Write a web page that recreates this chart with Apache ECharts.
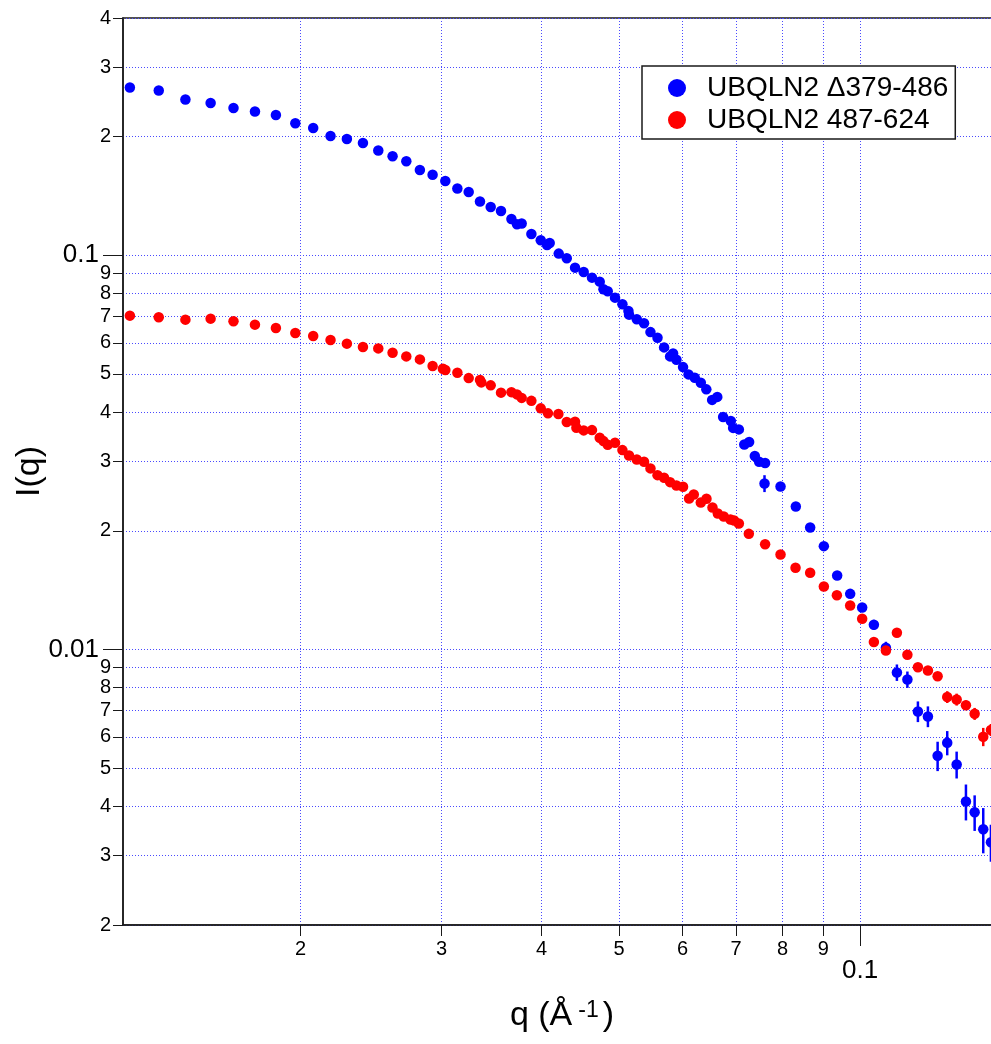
<!DOCTYPE html>
<html>
<head>
<meta charset="utf-8">
<script src="https://cdn.jsdelivr.net/npm/echarts@6/dist/echarts.min.js"></script>
<style>
  html, body { margin: 0; padding: 0; background: #fff; }
  #chart { width: 991px; height: 1044px; }
</style>
</head>
<body>
<div id="chart"></div>
<script>
// ---------------------------------------------------------------
// Data (q in 1/Angstrom, I(q) arbitrary)
// ---------------------------------------------------------------
var qBlue = [
  0.01224, 0.01330, 0.01436, 0.01544, 0.01649, 0.01754, 0.01863, 0.01970, 0.02074, 0.02180,
  0.02285, 0.02393, 0.02501, 0.02606, 0.02711, 0.02819, 0.02924, 0.03033, 0.03140, 0.03244,
  0.03351, 0.03456, 0.03560, 0.03668, 0.03727, 0.03778, 0.03885, 0.03991, 0.04064, 0.04095,
  0.04203, 0.04301, 0.04405, 0.04516, 0.04625, 0.04729, 0.04780, 0.04839, 0.04942, 0.05048,
  0.05136, 0.05145, 0.05261, 0.05372, 0.05472, 0.05584, 0.05691, 0.05790, 0.05840, 0.05897,
  0.06010, 0.06105, 0.06216, 0.06325, 0.06426, 0.06534, 0.06632, 0.06744, 0.06895, 0.06941,
  0.07056, 0.07168, 0.07268, 0.07388, 0.07480, 0.07610, 0.07597, 0.07955, 0.08313, 0.08663,
  0.09011, 0.09363, 0.09720, 0.10061, 0.10406, 0.10772, 0.11118, 0.11459, 0.11811, 0.12156,
  0.12500, 0.12850, 0.13203, 0.13561, 0.13905, 0.14253, 0.14572
];
var iBlue = [
  0.2665, 0.2618, 0.2484, 0.2435, 0.2365, 0.2316, 0.2270, 0.2163, 0.2104, 0.2008,
  0.1973, 0.1928, 0.1844, 0.1783, 0.1732, 0.1646, 0.1601, 0.1544, 0.1477, 0.1448,
  0.1369, 0.1326, 0.1296, 0.1236, 0.1199, 0.1204, 0.1133, 0.1092, 0.1062, 0.1075,
  0.1010, 0.09826, 0.09306, 0.09071, 0.08778, 0.08575, 0.08198, 0.08103, 0.07810, 0.07510,
  0.07222, 0.07071, 0.06880, 0.06721, 0.06386, 0.06181, 0.05840, 0.05541, 0.05639, 0.05435,
  0.05205, 0.04988, 0.04893, 0.04752, 0.04570, 0.04297, 0.04373, 0.03887, 0.03797, 0.03649,
  0.03617, 0.03313, 0.03362, 0.03095, 0.02995, 0.02971, 0.02638, 0.02592, 0.02306, 0.02040,
  0.01829, 0.01541, 0.01384, 0.01278, 0.01155, 0.01010, 0.008742, 0.008392, 0.006963, 0.006762,
  0.005374, 0.005799, 0.005107, 0.004114, 0.003865, 0.003500, 0.003243
];
var errBlue = [
  0, 0, 0, 0, 0, 0, 0, 0, 0, 0,
  0, 0, 0, 0, 0, 0, 0, 0, 0, 0,
  0, 0, 0, 0, 0, 0, 0, 0, 0, 0,
  0, 0, 0, 0, 0, 0, 0, 0, 0, 0,
  0, 0, 0, 0, 0, 0, 0, 0, 0, 0,
  0, 0, 0, 0, 0, 0, 0, 0.0004, 0.0004, 0.0004,
  0.0004, 0.0004, 0.0004, 0.0004, 0.0004, 0.0004, 0.0013, 0.0006, 0.0005, 0.0004,
  0.0004, 0.00027, 0.00025, 0.0003, 0.00034, 0.00036, 0.00042, 0.0004, 0.00042, 0.00041,
  0.00046, 0.00041, 0.0004, 0.00043, 0.0004, 0.00046, 0.00035
];

var qRed = [
  0.01224, 0.01330, 0.01436, 0.01544, 0.01649, 0.01754, 0.01863, 0.01970, 0.02074, 0.02180,
  0.02285, 0.02393, 0.02501, 0.02606, 0.02711, 0.02819, 0.02924, 0.03012, 0.03033, 0.03140,
  0.03244, 0.03351, 0.03364, 0.03456, 0.03560, 0.03668, 0.03727, 0.03778, 0.03885, 0.03991,
  0.04075, 0.04199, 0.04301, 0.04405, 0.04422, 0.04516, 0.04625, 0.04729, 0.04780, 0.04839,
  0.04942, 0.05048, 0.05145, 0.05261, 0.05372, 0.05472, 0.05584, 0.05691, 0.05790, 0.05897,
  0.06010, 0.06115, 0.06198, 0.06325, 0.06429, 0.06541, 0.06642, 0.06757, 0.06889, 0.06961,
  0.07056, 0.07262, 0.07610, 0.07955, 0.08306, 0.08663, 0.09011, 0.09355, 0.09720, 0.10061,
  0.10406, 0.10772, 0.11118, 0.11459, 0.11811, 0.12156, 0.12500, 0.12850, 0.13203, 0.13561,
  0.13905, 0.14253, 0.14572
];
var iRed = [
  0.07030, 0.06961, 0.06868, 0.06908, 0.06800, 0.06670, 0.06539, 0.06350, 0.06240, 0.06095,
  0.05969, 0.05851, 0.05806, 0.05662, 0.05541, 0.05445, 0.05236, 0.05157, 0.05115, 0.05038,
  0.04881, 0.04830, 0.04760, 0.04678, 0.04483, 0.04496, 0.04438, 0.04348, 0.04273, 0.04090,
  0.03972, 0.03956, 0.03775, 0.03783, 0.03653, 0.03596, 0.03602, 0.03446, 0.03378, 0.03308,
  0.03347, 0.03205, 0.03107, 0.03035, 0.02995, 0.02880, 0.02769, 0.02728, 0.02658, 0.02607,
  0.02587, 0.02416, 0.02473, 0.02360, 0.02413, 0.02292, 0.02213, 0.02175, 0.02137, 0.02125,
  0.02088, 0.01965, 0.01850, 0.01742, 0.01612, 0.01565, 0.01445, 0.01373, 0.01293, 0.01197,
  0.01045, 0.009942, 0.01103, 0.009695, 0.009017, 0.008845, 0.008555, 0.007576, 0.007466, 0.007222,
  0.006868, 0.006005, 0.006249
];
var errRed = [
  0, 0, 0, 0, 0, 0, 0, 0, 0, 0,
  0, 0, 0, 0, 0, 0, 0, 0, 0, 0,
  0, 0, 0, 0, 0, 0, 0, 0, 0, 0,
  0, 0, 0, 0, 0, 0, 0, 0, 0, 0,
  0, 0, 0, 0, 0, 0, 0, 0, 0, 0,
  0, 0, 0, 0, 0, 0, 0, 0, 0, 0,
  0, 0.00015, 0.00015, 0.00015, 0.00015, 0.00015, 0.00015, 0.00015, 0.00015, 0.00015,
  0.00025, 0.00024, 0.0002, 0.00023, 0.0002, 0.0002, 0.0002, 0.00026, 0.00026, 0.0002,
  0.00024, 0.00032, 0.00022
];

var seriesNames = ['UBQLN2 \u0394379-486', 'UBQLN2 487-624'];
var seriesColors = ['#0000ff', '#ff0000'];

// tick positions (minor ones get a single digit label, majors get the full value)
var xMinorTicks = [0.02, 0.03, 0.04, 0.05, 0.06, 0.07, 0.08, 0.09];
var xMajorTicks = [0.1];
var yMinorTicks = [0.002, 0.003, 0.004, 0.005, 0.006, 0.007, 0.008, 0.009,
                   0.02, 0.03, 0.04, 0.05, 0.06, 0.07, 0.08, 0.09,
                   0.2, 0.3, 0.4];
var yMajorTicks = [0.01, 0.1];

var X_MIN = 0.012, X_MAX = 0.15;
var Y_MIN = 0.002, Y_MAX = 0.4;

// ---------------------------------------------------------------
var FONT = "'Liberation Sans', Arial, Helvetica, sans-serif";
var INK = '#1a1a1a';
var gridLine = { show: true, lineStyle: { color: '#4a4aff', type: [1, 2], width: 1 } };

function digit(v) {
  var p = Math.pow(10, Math.floor(Math.log10(v) + 1e-9));
  return String(Math.round(v / p));
}

function pairs(q, y) {
  return q.map(function (x, i) { return [x, y[i]]; });
}
function errPairs(q, y, e) {
  var out = [];
  q.forEach(function (x, i) { if (e[i] > 0) out.push([x, y[i], e[i]]); });
  return out;
}

// vertical error bar from I - err to I + err, placed through the axes
function errorBar(color) {
  return function (params, api) {
    var x = api.value(0), y = api.value(1), e = api.value(2);
    var lo = api.coord([x, y - e]);
    var hi = api.coord([x, y + e]);
    return {
      type: 'line',
      shape: { x1: lo[0], y1: lo[1], x2: hi[0], y2: hi[1] },
      style: { stroke: color, lineWidth: 2.5 }
    };
  };
}

var chart = echarts.init(document.getElementById('chart'), null, { renderer: 'canvas' });

var option = {
  animation: false,
  backgroundColor: '#fff',
  color: seriesColors,
  textStyle: { fontFamily: FONT },
  grid: {
    left: 123, top: 18, right: -10, bottom: 119,
    show: true, borderColor: INK, borderWidth: 1.5,
    containLabel: false, outerBoundsMode: 'none'
  },
  legend: {
    orient: 'vertical', left: 642, top: 66,
    backgroundColor: '#fff', borderColor: INK, borderWidth: 1.5,
    padding: [8, 7, 5, 26], itemGap: 4,
    itemWidth: 50, itemHeight: 18, icon: 'circle',
    textStyle: { fontSize: 28, color: '#000', fontFamily: FONT },
    data: seriesNames
  },
  xAxis: [
    {
      type: 'log', min: X_MIN, max: X_MAX, position: 'bottom',
      axisLine: { show: true, lineStyle: { color: INK, width: 1.5 } },
      axisTick: { show: true, length: 11, customValues: xMinorTicks, lineStyle: { color: INK, width: 1 } },
      axisLabel: { customValues: xMinorTicks, formatter: digit, fontSize: 20, color: '#000', margin: 14 },
      minorTick: { show: false },
      splitLine: gridLine,
      name: '{a|q (\u00C5}{b|-1}{a|)}',
      nameLocation: 'middle', nameGap: 74,
      nameTextStyle: {
        rich: {
          a: { fontSize: 34, color: '#000', fontFamily: FONT },
          b: { fontSize: 23, color: '#000', fontFamily: FONT, verticalAlign: 'top', padding: [0, 4, 0, 6] }
        }
      }
    },
    {
      type: 'log', min: X_MIN, max: X_MAX, position: 'bottom',
      axisLine: { show: false },
      axisTick: { show: true, length: 21, customValues: xMajorTicks, lineStyle: { color: INK, width: 1 } },
      axisLabel: { customValues: xMajorTicks, formatter: function () { return '0.1'; }, fontSize: 26, color: '#000', margin: 33 },
      minorTick: { show: false },
      splitLine: gridLine
    }
  ],
  yAxis: [
    {
      type: 'log', min: Y_MIN, max: Y_MAX, position: 'left',
      axisLine: { show: true, lineStyle: { color: INK, width: 1.5 } },
      axisTick: { show: true, length: 10, customValues: yMinorTicks, lineStyle: { color: INK, width: 1 } },
      axisLabel: { customValues: yMinorTicks, formatter: digit, fontSize: 20, color: '#000', margin: 12 },
      minorTick: { show: false },
      splitLine: gridLine,
      name: 'I(q)', nameLocation: 'middle', nameRotate: 90, nameGap: 76,
      nameTextStyle: { fontSize: 34, color: '#000', fontFamily: FONT }
    },
    {
      type: 'log', min: Y_MIN, max: Y_MAX, position: 'left',
      axisLine: { show: false },
      axisTick: { show: true, length: 20, customValues: yMajorTicks, lineStyle: { color: INK, width: 1 } },
      axisLabel: { customValues: yMajorTicks, formatter: function (v) { return v < 0.05 ? '0.01' : '0.1'; }, fontSize: 26, color: '#000', margin: 24 },
      minorTick: { show: false },
      splitLine: gridLine
    }
  ],
  series: [
    {
      name: seriesNames[0], type: 'scatter', xAxisIndex: 0, yAxisIndex: 0,
      symbol: 'circle', symbolSize: 10.5,
      itemStyle: { color: seriesColors[0], opacity: 1 },
      data: pairs(qBlue, iBlue), z: 3
    },
    {
      name: seriesNames[1], type: 'scatter', xAxisIndex: 0, yAxisIndex: 0,
      symbol: 'circle', symbolSize: 10.5,
      itemStyle: { color: seriesColors[1], opacity: 1 },
      data: pairs(qRed, iRed), z: 3
    },
    {
      name: seriesNames[0], type: 'custom', xAxisIndex: 0, yAxisIndex: 0,
      renderItem: errorBar(seriesColors[0]), encode: { x: 0, y: 1 },
      itemStyle: { color: seriesColors[0] },
      data: errPairs(qBlue, iBlue, errBlue), z: 2
    },
    {
      name: seriesNames[1], type: 'custom', xAxisIndex: 0, yAxisIndex: 0,
      renderItem: errorBar(seriesColors[1]), encode: { x: 0, y: 1 },
      itemStyle: { color: seriesColors[1] },
      data: errPairs(qRed, iRed, errRed), z: 2
    }
  ]
};

chart.setOption(option);
</script>
</body>
</html>
